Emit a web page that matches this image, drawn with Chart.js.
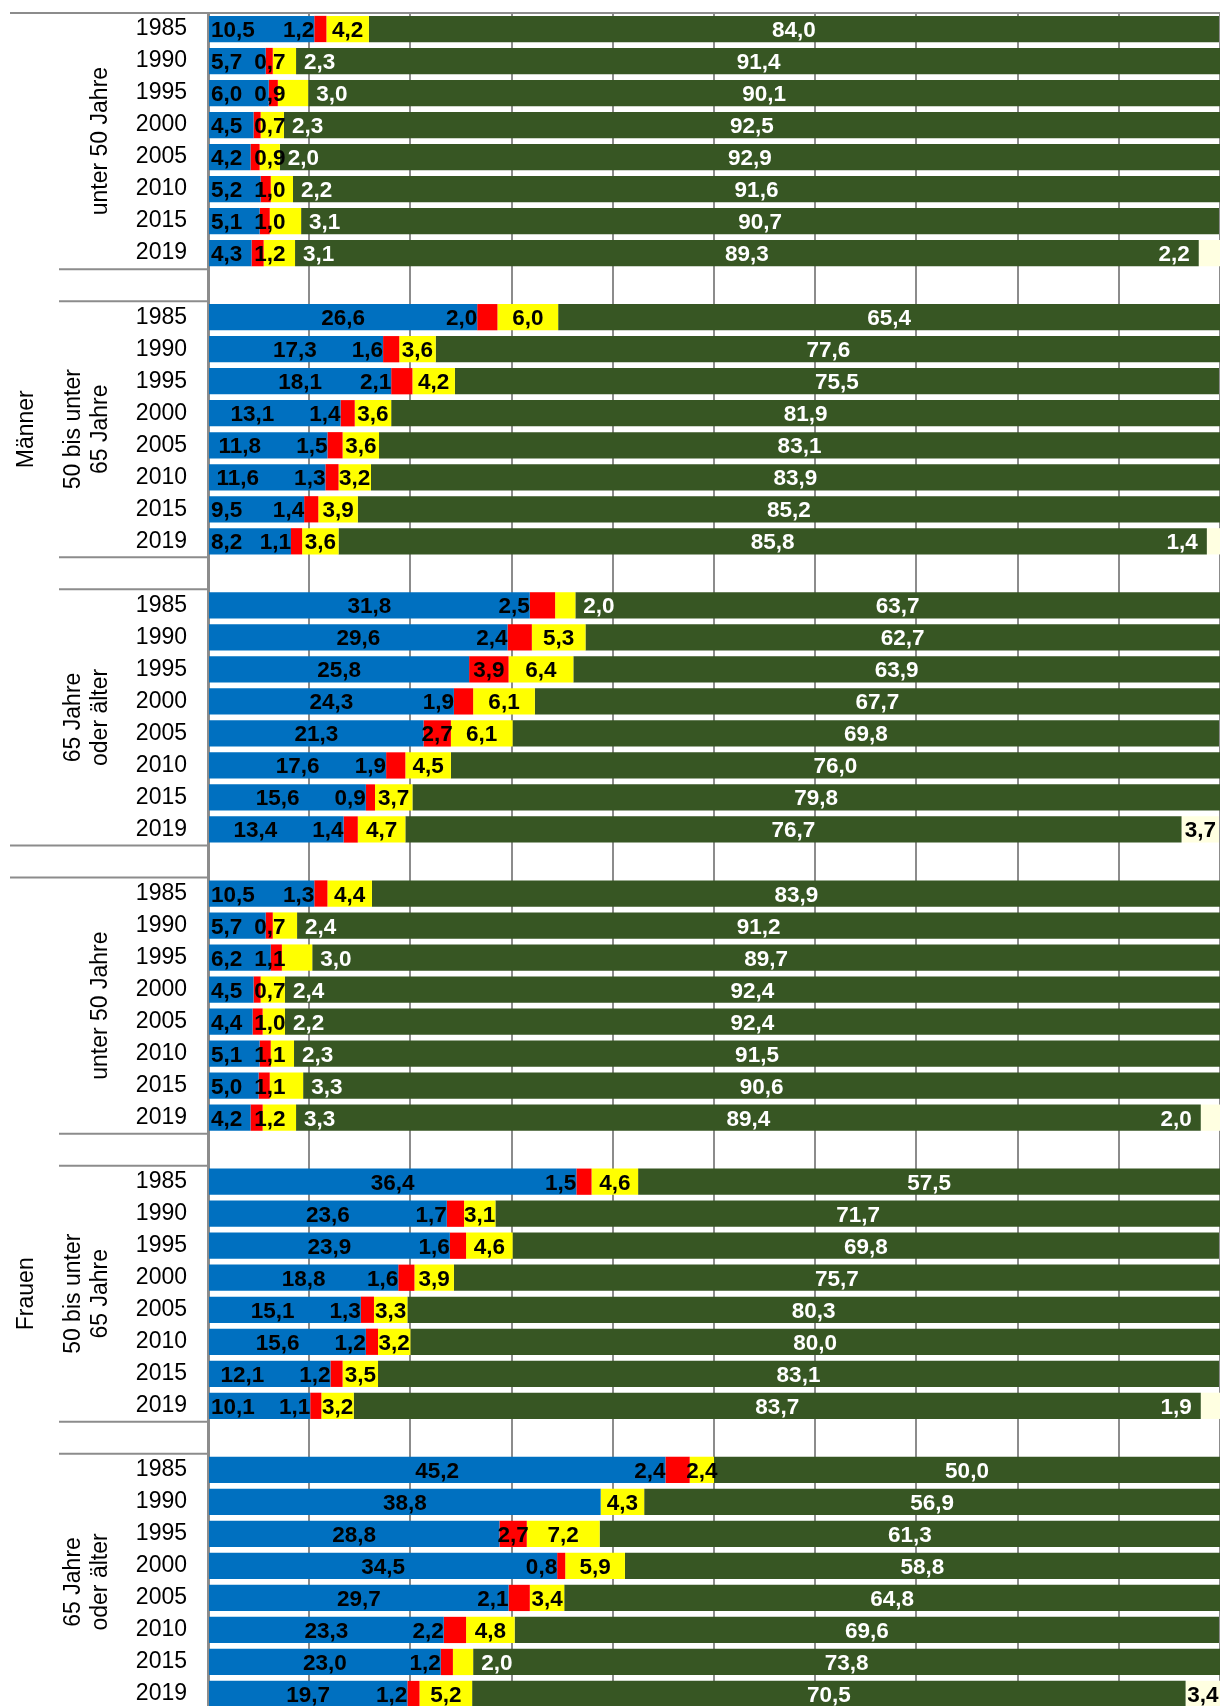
<!DOCTYPE html>
<html lang="de">
<head>
<meta charset="utf-8">
<script src="https://cdn.jsdelivr.net/npm/chart.js@4.4.1/dist/chart.umd.min.js"></script>
<style>
  html, body { margin: 0; padding: 0; background: #fff; overflow: hidden; }
  #wrap { width: 1220px; height: 1710px; position: relative; }
</style>
</head>
<body>
<div id="wrap"><canvas id="chartAnteile"></canvas></div>
<script>
// Jahre je Gruppe
const years = ['1985', '1990', '1995', '2000', '2005', '2010', '2015', '2019'];
const geschlecht = ['Männer', 'Frauen'];
const altersgruppen = [['unter 50 Jahre'], ['50 bis unter', '65 Jahre'], ['65 Jahre', 'oder älter']];

// Werte in %, Reihenfolge: Männer (<50, 50-65, 65+), Frauen (<50, 50-65, 65+)
const blau = [
    10.5, 5.7, 6.0, 4.5, 4.2, 5.2, 5.1, 4.3,
    26.6, 17.3, 18.1, 13.1, 11.8, 11.6, 9.5, 8.2,
    31.8, 29.6, 25.8, 24.3, 21.3, 17.6, 15.6, 13.4,
    10.5, 5.7, 6.2, 4.5, 4.4, 5.1, 5.0, 4.2,
    36.4, 23.6, 23.9, 18.8, 15.1, 15.6, 12.1, 10.1,
    45.2, 38.8, 28.8, 34.5, 29.7, 23.3, 23.0, 19.7
];
const rot = [
    1.2, 0.7, 0.9, 0.7, 0.9, 1.0, 1.0, 1.2,
    2.0, 1.6, 2.1, 1.4, 1.5, 1.3, 1.4, 1.1,
    2.5, 2.4, 3.9, 1.9, 2.7, 1.9, 0.9, 1.4,
    1.3, 0.7, 1.1, 0.7, 1.0, 1.1, 1.1, 1.2,
    1.5, 1.7, 1.6, 1.6, 1.3, 1.2, 1.2, 1.1,
    2.4, 0, 2.7, 0.8, 2.1, 2.2, 1.2, 1.2
];
const gelb = [
    4.2, 2.3, 3.0, 2.3, 2.0, 2.2, 3.1, 3.1,
    6.0, 3.6, 4.2, 3.6, 3.6, 3.2, 3.9, 3.6,
    2.0, 5.3, 6.4, 6.1, 6.1, 4.5, 3.7, 4.7,
    4.4, 2.4, 3.0, 2.4, 2.2, 2.3, 3.3, 3.3,
    4.6, 3.1, 4.6, 3.9, 3.3, 3.2, 3.5, 3.2,
    2.4, 4.3, 7.2, 5.9, 3.4, 4.8, 2.0, 5.2
];
const gruen = [
    84.0, 91.4, 90.1, 92.5, 92.9, 91.6, 90.7, 89.3,
    65.4, 77.6, 75.5, 81.9, 83.1, 83.9, 85.2, 85.8,
    63.7, 62.7, 63.9, 67.7, 69.8, 76.0, 79.8, 76.7,
    83.9, 91.2, 89.7, 92.4, 92.4, 91.5, 90.6, 89.4,
    57.5, 71.7, 69.8, 75.7, 80.3, 80.0, 83.1, 83.7,
    50.0, 56.9, 61.3, 58.8, 64.8, 69.6, 73.8, 70.5
];
const hell = [
    0, 0, 0, 0, 0, 0, 0, 2.2,
    0, 0, 0, 0, 0, 0, 0, 1.4,
    0, 0, 0, 0, 0, 0, 0, 3.7,
    0, 0, 0, 0, 0, 0, 0, 2.0,
    0, 0, 0, 0, 0, 0, 0, 1.9,
    0, 0, 0, 0, 0, 0, 0, 3.4
];

const GRAU = '#8c8c8c';
const SCHRIFT = '"Liberation Sans", Arial, sans-serif';

// Leerzeile zwischen den Gruppen einfügen
const mitLuecken = arr => {
    const out = [];
    arr.forEach((v, i) => {
        if (i > 0 && i % years.length === 0) out.push(null);
        out.push(v);
    });
    return out;
};

const etiquetasY = mitLuecken(blau.map((_, i) => years[i % years.length]));
const fmt = v => v.toFixed(1).replace('.', ',');

const datenLabels = {
    id: 'datenLabels',
    afterDatasetsDraw(chart) {
        const ctx = chart.ctx;
        const metas = chart.data.datasets.map((_, k) => chart.getDatasetMeta(k));
        ctx.save();
        ctx.font = 'bold 22.5px ' + SCHRIFT;
        ctx.textBaseline = 'alphabetic';

        chart.data.labels.forEach((lab, i) => {
            if (!lab) return;
            const seg = metas.map((m, k) => {
                const el = m.data[i];
                return {
                    v: chart.data.datasets[k].data[i] || 0,
                    x0: Math.min(el.base, el.x),
                    x1: Math.max(el.base, el.x),
                    y: el.y
                };
            });
            const [b, r, g, gr, h] = seg;
            const yT = b.y + 8;
            const txt = (s, x, align, color) => {
                ctx.fillStyle = color;
                ctx.textAlign = align;
                ctx.fillText(s, x, yT);
            };

            // blau + rot
            const bw = ctx.measureText(fmt(b.v)).width;
            let redLeft = null;
            if (r.v > 0) {
                const rw = ctx.measureText(fmt(r.v)).width;
                redLeft = r.v >= 2.7 ? (r.x0 + r.x1) / 2 - rw / 2 : b.x1 - rw;
            }
            let bc = (b.x0 + b.x1) / 2;
            if (redLeft !== null && r.v < 2.7) bc = Math.min(bc, redLeft - 35 - bw / 2);
            bc = Math.max(bc, b.x0 + bw / 2 + 2);
            txt(fmt(b.v), bc, 'center', '#000');
            if (redLeft !== null) {
                redLeft = Math.max(redLeft, bc + bw / 2 + 12);
                txt(fmt(r.v), redLeft, 'left', '#000');
            }

            // gelb
            if (g.v > 0) {
                if (g.v >= 2.4 && b.v + r.v + g.v >= 12) {
                    txt(fmt(g.v), (g.x0 + g.x1) / 2, 'center', '#000');
                } else {
                    txt(fmt(g.v), g.x1 + 8, 'left', '#fff');
                }
            }

            // grün
            txt(fmt(gr.v), (gr.x0 + gr.x1) / 2, 'center', '#fff');

            // hell
            if (h.v > 0) {
                if (h.v >= 3) {
                    txt(fmt(h.v), (h.x0 + h.x1) / 2, 'center', '#000');
                } else {
                    txt(fmt(h.v), h.x0 - 9, 'right', '#fff');
                }
            }
        });
        ctx.restore();
    }
};

const achseLinks = {
    id: 'achseLinks',
    afterDraw(chart) {
        const ctx = chart.ctx;
        const y = chart.scales.y;
        const area = chart.chartArea;
        const half = (y.getPixelForValue(1) - y.getPixelForValue(0)) / 2;
        const n = years.length;
        ctx.save();
        ctx.strokeStyle = GRAU;
        ctx.lineWidth = 2;

        const linie = (x0, x1, yy) => {
            ctx.beginPath();
            ctx.moveTo(x0, yy);
            ctx.lineTo(x1, yy);
            ctx.stroke();
        };
        linie(10, chart.width, area.top);

        ctx.fillStyle = '#000';
        ctx.textAlign = 'center';
        ctx.textBaseline = 'middle';
        ctx.font = '23px ' + SCHRIFT;

        const rotiert = (s, x, yy) => {
            ctx.save();
            ctx.translate(x, yy);
            ctx.rotate(-Math.PI / 2);
            ctx.fillText(s, 0, 0);
            ctx.restore();
        };

        let idx = 0;
        geschlecht.forEach((sex) => {
            const startSex = idx;
            altersgruppen.forEach((ag, a) => {
                const start = idx;
                const end = idx + n - 1;
                const yc = (y.getPixelForValue(start) + y.getPixelForValue(end)) / 2;
                if (ag.length === 1) {
                    rotiert(ag[0], 101, yc);
                } else {
                    rotiert(ag[0], 74, yc);
                    rotiert(ag[1], 101, yc);
                }
                idx = end + 1;
                if (idx < etiquetasY.length) {
                    const gap = y.getPixelForValue(idx);
                    const x0 = a === altersgruppen.length - 1 ? 10 : 59;
                    linie(x0, area.left, gap - half);
                    linie(x0, area.left, gap + half);
                }
                idx += 1;
            });
            const endSex = Math.min(idx - 2, etiquetasY.length - 1);
            rotiert(sex, 27, (y.getPixelForValue(startSex) + y.getPixelForValue(endSex)) / 2);
        });
        ctx.restore();
    }
};

const canvas = document.getElementById('chartAnteile');
const ctx = canvas.getContext('2d');

const chartAnteile = new Chart(ctx, {
    type: 'bar',
    data: {
        labels: etiquetasY,
        datasets: [
            { label: 'Anteil 1', data: mitLuecken(blau), backgroundColor: '#0070C0' },
            { label: 'Anteil 2', data: mitLuecken(rot), backgroundColor: '#FF0000' },
            { label: 'Anteil 3', data: mitLuecken(gelb), backgroundColor: '#FFFF00' },
            { label: 'Anteil 4', data: mitLuecken(gruen), backgroundColor: '#375623' },
            { label: 'Anteil 5', data: mitLuecken(hell), backgroundColor: '#FFFFE1' }
        ]
    },
    options: {
        indexAxis: 'y',
        responsive: true,
        maintainAspectRatio: false,
        animation: false,
        layout: { padding: { top: 13, right: 0, bottom: 0, left: 0 } },
        datasets: { bar: { barPercentage: 0.82, categoryPercentage: 1 } },
        plugins: {
            legend: { display: false },
            tooltip: { enabled: false },
            title: { display: false }
        },
        scales: {
            x: {
                stacked: true,
                min: 0,
                max: 100,
                position: 'bottom',
                ticks: { display: false, stepSize: 10 },
                grid: { color: GRAU, lineWidth: 2, drawTicks: false },
                border: { display: false },
                afterFit: s => {
                    s.height = 0;
                    s.paddingLeft = 0;
                    s.paddingRight = 0;
                }
            },
            y: {
                stacked: true,
                ticks: {
                    color: '#000',
                    font: { family: SCHRIFT, size: 23 },
                    padding: 21,
                    autoSkip: false
                },
                grid: { display: false, drawTicks: false },
                border: { display: true, color: GRAU, width: 3 },
                afterFit: s => {
                    s.width = 208;
                    s.paddingTop = 0;
                    s.paddingBottom = 0;
                }
            }
        }
    },
    plugins: [datenLabels, achseLinks]
});
</script>
</body>
</html>
